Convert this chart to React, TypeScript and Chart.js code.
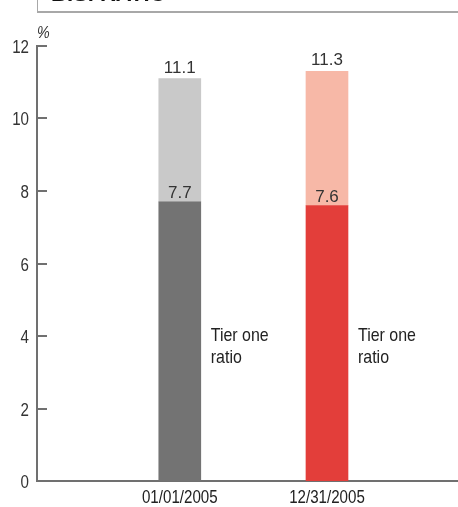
import { useEffect, useRef } from 'react';
import { Chart, registerables } from 'chart.js';

Chart.register(...registerables);

const title = 'BIS. RATIO';
const unitLabel = '%';
const categories = ['01/01/2005', '12/31/2005'];
const categoryPositions = [1, 2];
const tierOneRatio = [7.7, 7.6];
const bisRatio = [11.1, 11.3];
const yTickValues = [0, 2, 4, 6, 8, 10, 12];
const tierLabelLines = ['Tier one', 'ratio'];
const darkColors = ['#737373', '#e33e3a'];
const lightColors = ['#c9c9c9', '#f7b8a7'];

const SANS = "'Liberation Sans', Arial, Helvetica, sans-serif";
const AXIS_COLOR = '#707070';
const TEXT_COLOR = '#333333';
const CONDENSE = 0.84;

function drawCondensed(
  ctx: CanvasRenderingContext2D,
  text: string,
  x: number,
  y: number,
  align: CanvasTextAlign,
  font: string,
  color: string,
) {
  ctx.save();
  ctx.translate(x, y);
  ctx.scale(CONDENSE, 1);
  ctx.font = font;
  ctx.fillStyle = color;
  ctx.textAlign = align;
  ctx.textBaseline = 'alphabetic';
  ctx.fillText(text, 0, 0);
  ctx.restore();
}

const annotations = {
  id: 'annotations',
  afterDraw(chart: any) {
    const ctx = chart.ctx as CanvasRenderingContext2D;
    const xScale = chart.scales.x;
    const yScale = chart.scales.y;
    const area = chart.chartArea;
    ctx.save();

    // inward tick marks + labels on y axis
    ctx.strokeStyle = AXIS_COLOR;
    ctx.lineWidth = 2;
    yTickValues.forEach((v) => {
      const py = Math.round(yScale.getPixelForValue(v));
      ctx.beginPath();
      ctx.moveTo(area.left, py);
      ctx.lineTo(area.left + 10, py);
      ctx.stroke();
      drawCondensed(ctx, String(v), area.left - 8, py + 7, 'right', `18px ${SANS}`, TEXT_COLOR);
    });

    // x category labels
    categories.forEach((c, i) => {
      const px = xScale.getPixelForValue(categoryPositions[i]);
      drawCondensed(ctx, c, px, area.bottom + 22, 'center', `18px ${SANS}`, '#222222');
    });

    // unit label
    drawCondensed(ctx, unitLabel, area.left, area.top - 8, 'left', `italic 17px ${SANS}`, TEXT_COLOR);

    const tierMeta = chart.getDatasetMeta(0);
    const totalMeta = chart.getDatasetMeta(1);

    ctx.font = `17px ${SANS}`;
    ctx.fillStyle = TEXT_COLOR;
    ctx.textAlign = 'center';
    ctx.textBaseline = 'alphabetic';
    totalMeta.data.forEach((bar: any, i: number) => {
      const p = bar.getProps(['x', 'y'], true);
      ctx.fillText(bisRatio[i].toFixed(1), p.x, p.y - 6);
    });
    tierMeta.data.forEach((bar: any, i: number) => {
      const p = bar.getProps(['x', 'y', 'base', 'width'], true);
      ctx.font = `17px ${SANS}`;
      ctx.textAlign = 'center';
      ctx.fillStyle = TEXT_COLOR;
      ctx.fillText(tierOneRatio[i].toFixed(1), p.x, p.y - 4);

      const mid = yScale.getPixelForValue(tierOneRatio[0] / 2);
      tierLabelLines.forEach((line, k) => {
        drawCondensed(ctx, line, p.x + p.width / 2 + 10, mid + k * 22, 'left', `19px ${SANS}`, '#222222');
      });
    });

    ctx.restore();
  },
};

function BarChart() {
  const ref = useRef<HTMLCanvasElement | null>(null);

  useEffect(() => {
    if (!ref.current) return;
    const chart = new Chart(ref.current, {
      type: 'bar',
      data: {
        datasets: [
          {
            label: 'Tier one ratio',
            data: categoryPositions.map((x, i) => ({ x, y: tierOneRatio[i] })) as any,
            backgroundColor: darkColors,
            barThickness: 42,
            grouped: false,
          } as any,
          {
            label: 'BIS ratio',
            data: categoryPositions.map((x, i) => ({ x, y: [tierOneRatio[i], bisRatio[i]] })) as any,
            backgroundColor: lightColors,
            barThickness: 42,
            grouped: false,
          } as any,
        ],
      },
      options: {
        animation: false,
        responsive: false,
        layout: { padding: { top: 46, right: 0, left: 0, bottom: 0 } },
        plugins: {
          legend: { display: false },
          tooltip: { enabled: false },
          title: { display: false },
        },
        scales: {
          x: {
            type: 'linear',
            min: 0.03,
            max: 2.89,
            offset: false,
            grid: { display: false, drawTicks: false, offset: false },
            border: { display: true, color: AXIS_COLOR, width: 2 },
            afterFit: (scale: any) => {
              scale.height = 26;
              scale.paddingLeft = 0;
              scale.paddingRight = 0;
            },
            ticks: { display: false },
          },
          y: {
            min: 0,
            max: 12,
            afterFit: (scale: any) => {
              scale.width = 37;
            },
            grid: { display: false, drawTicks: false },
            border: { display: true, color: AXIS_COLOR, width: 2 },
            ticks: { display: false },
          },
        },
      },
      plugins: [annotations],
    } as any);
    return () => chart.destroy();
  }, []);

  return <canvas ref={ref} width={458} height={507} style={{ display: 'block' }} />;
}

export default function App() {
  return (
    <div style={{ position: 'absolute', left: 0, top: 0, width: 458, height: 507, overflow: 'hidden', background: '#fff' }}>
      <BarChart />
      <div
        style={{
          position: 'absolute',
          left: 37,
          right: 0,
          top: -20,
          height: 31,
          borderLeft: '1px solid #a8a8a8',
          borderBottom: '2px solid #a8a8a8',
        }}
      >
        <span
          style={{
            position: 'absolute',
            left: 13,
            top: 3,
            fontFamily: SANS,
            fontWeight: 'bold',
            fontSize: 22,
            lineHeight: '22px',
            color: '#111',
            whiteSpace: 'nowrap',
          }}
        >
          {title}
        </span>
      </div>
    </div>
  );
}
